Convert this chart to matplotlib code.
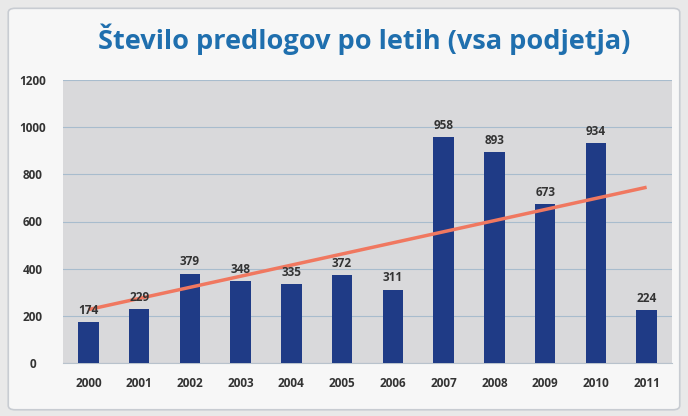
import matplotlib
matplotlib.use("Agg")
import matplotlib.pyplot as plt
import numpy as np
from matplotlib.patches import FancyBboxPatch

years = ["2000", "2001", "2002", "2003", "2004", "2005", "2006", "2007", "2008", "2009", "2010", "2011"]
values = [174, 229, 379, 348, 335, 372, 311, 958, 893, 673, 934, 224]
yticks = [0, 200, 400, 600, 800, 1000, 1200]
title = "Število predlogov po letih (vsa podjetja)"

plt.rcParams['font.family'] = ['Open Sans', 'DejaVu Sans']

fig = plt.figure(figsize=(6.88, 4.16), dpi=100)
fig.patch.set_facecolor('#e9e9e9')
frame = FancyBboxPatch((0.012, 0.015), 0.976, 0.965, boxstyle="round,pad=0,rounding_size=0.01",
                       transform=fig.transFigure, facecolor='#f7f7f7', edgecolor='#c8ccd2', lw=1.2, zorder=-10)
fig.patches.append(frame)

ax = fig.add_axes([63/688, (416-363)/416, 609/688, 283/416])
ax.set_zorder(1)
ax.set_facecolor('#d9d9db')
x = np.arange(len(years))
ax.bar(x, values, width=0.4, color='#1f3b86', zorder=3)
for xi, v in zip(x, values):
    ax.text(xi, v + 22, str(v), ha='center', va='bottom', fontsize=8.5, fontweight='bold', color='#333333', zorder=5)

coef = np.polyfit(x, values, 1)
ax.plot(x, np.polyval(coef, x), color='#f07860', lw=2.5, zorder=4, solid_capstyle='butt')

ax.set_xlim(-0.5, len(years) - 0.5)
ax.set_ylim(0, 1200)
ax.set_yticks(yticks)
ax.set_yticklabels([str(t) for t in yticks])
ax.set_xticks(x)
ax.set_xticklabels(years)
ax.yaxis.grid(True, color='#a8bccd', lw=0.8, zorder=1)
ax.set_axisbelow(True)
for s in ['top', 'right', 'left']:
    ax.spines[s].set_visible(False)
ax.spines['bottom'].set_color('#b8c2cc')
ax.tick_params(axis='both', length=0, labelsize=8.5, labelcolor='#333333')
for lab in ax.get_xticklabels() + ax.get_yticklabels():
    lab.set_fontweight('bold')
ax.tick_params(axis='x', pad=10)
ax.tick_params(axis='y', pad=22)
for lab in ax.get_yticklabels():
    lab.set_horizontalalignment('center')

fig.text(0.53, 0.905, title, ha='center', va='center', fontsize=19.5, fontweight='bold', color='#1f6fae', zorder=2)

fig.savefig('out.png', dpi=100, facecolor=fig.get_facecolor())
